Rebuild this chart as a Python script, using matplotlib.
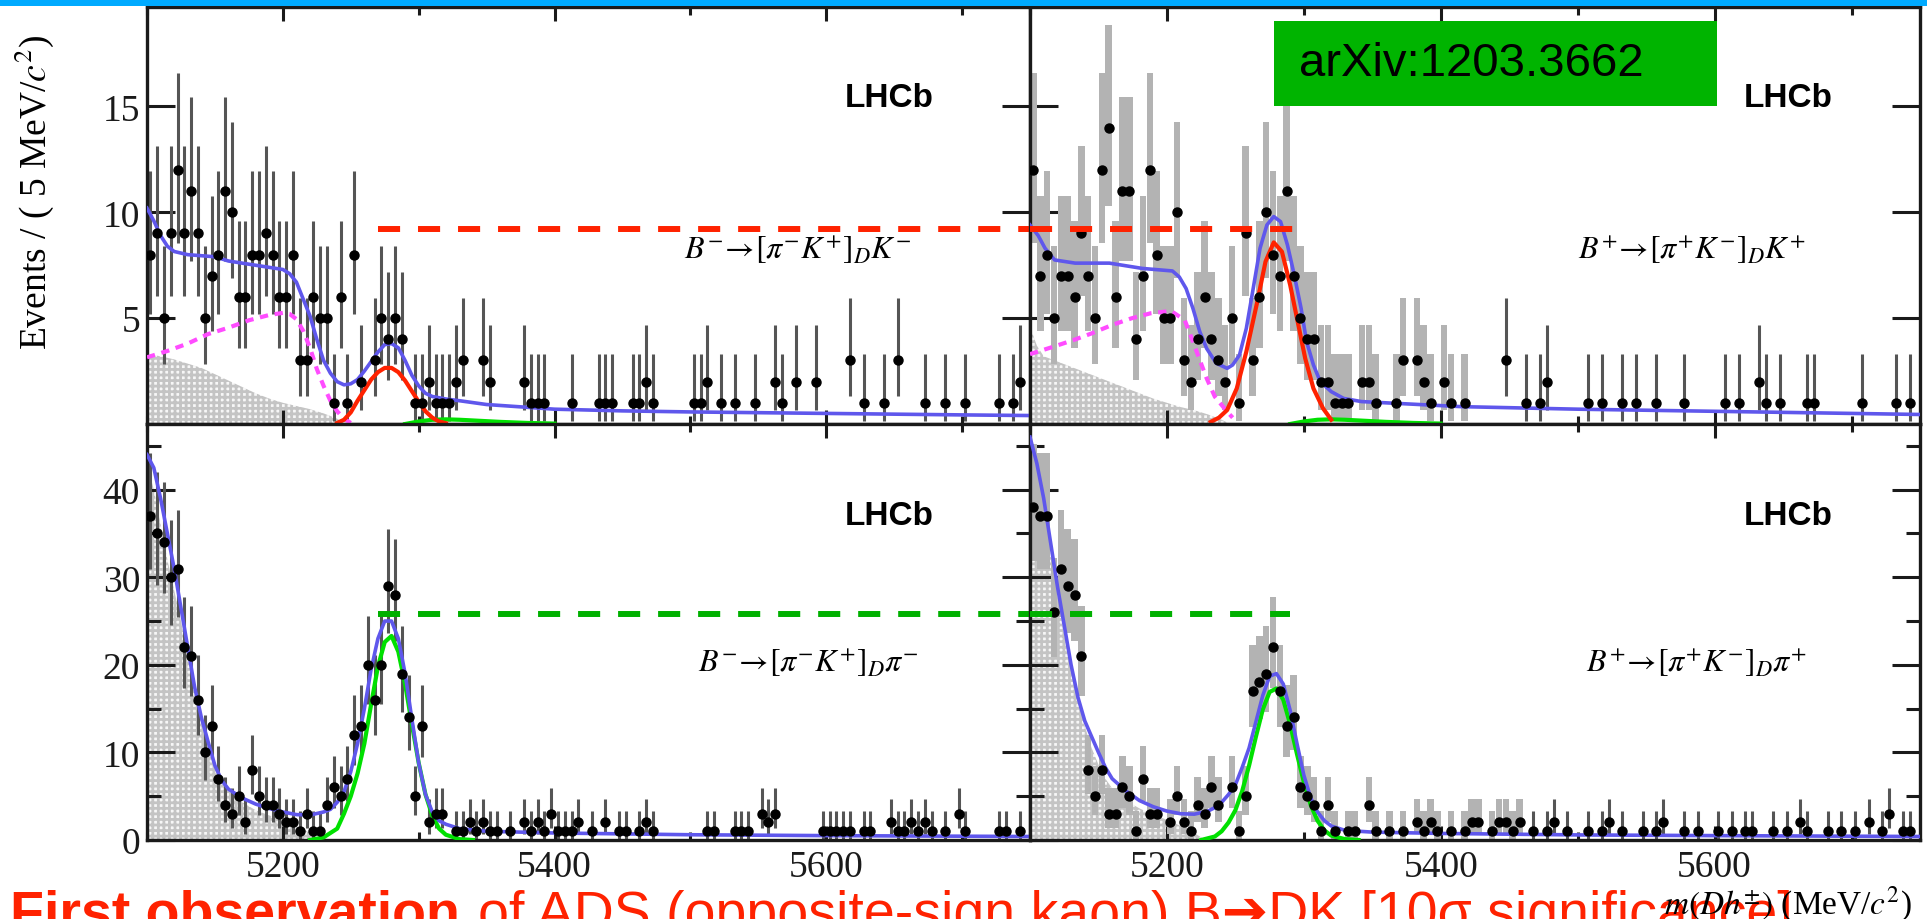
"""LHCb ADS B -> DK / Dpi mass fits: four panel slide figure"""

import numpy as np
import matplotlib
matplotlib.use("Agg")
import matplotlib.pyplot as plt
from matplotlib.patches import Rectangle
from matplotlib.ticker import FixedLocator

###################################################################################################
#                                              DATA                                               #

MASS_LO, MASS_HI = 5100, 5750
BIN_WIDTH = 5

# events per 5 MeV bin starting at 5100 (130 bins)
counts_dk_minus = [
    8, 9, 5, 9, 12, 9, 11, 9, 5, 7,
    8, 11, 10, 6, 6, 8, 8, 9, 8, 6,
    6, 8, 3, 3, 6, 5, 5, 1, 6, 1,
    8, 2, 0, 3, 5, 4, 5, 4, 0, 1,
    1, 2, 1, 1, 1, 2, 3, 0, 0, 3,
    2, 0, 0, 0, 0, 2, 1, 1, 1, 0,
    0, 0, 1, 0, 0, 0, 1, 1, 1, 0,
    0, 1, 1, 2, 1, 0, 0, 0, 0, 0,
    1, 1, 2, 0, 1, 0, 1, 0, 0, 1,
    0, 0, 2, 1, 0, 2, 0, 0, 2, 0,
    0, 0, 0, 3, 0, 1, 0, 0, 1, 0,
    3, 0, 0, 0, 1, 0, 0, 1, 0, 0,
    1, 0, 0, 0, 0, 1, 0, 1, 2, 0,
]
counts_dk_plus = [
    12, 7, 8, 5, 7, 7, 6, 9, 7, 5,
    12, 14, 6, 11, 11, 4, 7, 12, 8, 5,
    5, 10, 3, 2, 4, 6, 4, 3, 2, 5,
    1, 9, 3, 6, 10, 8, 7, 11, 7, 5,
    4, 4, 2, 2, 1, 1, 1, 0, 2, 2,
    1, 0, 0, 1, 3, 0, 3, 2, 1, 0,
    2, 1, 0, 1, 0, 0, 0, 0, 0, 3,
    0, 0, 1, 0, 1, 2, 0, 0, 0, 0,
    0, 1, 0, 1, 0, 0, 1, 0, 1, 0,
    0, 1, 0, 0, 0, 1, 0, 0, 0, 0,
    0, 1, 0, 1, 0, 0, 2, 1, 0, 1,
    0, 0, 0, 1, 1, 0, 0, 0, 0, 0,
    0, 1, 0, 0, 0, 0, 1, 0, 1, 0,
]
counts_dpi_minus = [
    37, 35, 34, 30, 31, 22, 21, 16, 10, 13,
    7, 4, 3, 5, 2, 8, 5, 4, 4, 3,
    2, 2, 1, 3, 1, 1, 4, 6, 5, 7,
    12, 13, 20, 16, 20, 29, 28, 19, 14, 5,
    13, 2, 3, 3, 0, 1, 1, 2, 1, 2,
    1, 1, 0, 1, 0, 2, 1, 2, 1, 3,
    1, 1, 1, 2, 0, 1, 0, 2, 0, 1,
    1, 0, 1, 2, 1, 0, 0, 0, 0, 0,
    0, 0, 1, 1, 0, 0, 1, 1, 1, 0,
    3, 2, 3, 0, 0, 0, 0, 0, 0, 1,
    1, 1, 1, 1, 0, 1, 1, 0, 0, 2,
    1, 1, 2, 1, 2, 1, 0, 1, 0, 3,
    1, 0, 0, 0, 0, 1, 1, 0, 1, 0,
]
counts_dpi_plus = [
    38, 37, 37, 26, 31, 29, 28, 21, 8, 5,
    8, 3, 3, 6, 5, 1, 7, 3, 3, 0,
    2, 5, 2, 1, 4, 3, 6, 4, 0, 6,
    1, 5, 17, 18, 19, 22, 17, 13, 14, 6,
    5, 4, 1, 4, 1, 0, 1, 1, 0, 4,
    1, 0, 1, 0, 1, 0, 2, 1, 2, 1,
    0, 1, 0, 1, 2, 2, 0, 1, 2, 2,
    1, 2, 0, 1, 0, 1, 2, 0, 1, 0,
    0, 1, 0, 1, 2, 0, 1, 0, 0, 1,
    0, 1, 2, 0, 0, 1, 0, 1, 0, 0,
    1, 0, 1, 0, 1, 1, 0, 0, 1, 0,
    1, 0, 2, 1, 0, 0, 1, 0, 1, 0,
    1, 0, 2, 0, 1, 3, 0, 1, 1, 0,
]

# total fit (blue)
total_dk_minus_x = [5100, 5105, 5110, 5115, 5120, 5130, 5140, 5150, 5160, 5170, 5180, 5190, 5200,
                    5205, 5210, 5215, 5220, 5225, 5230, 5235, 5240, 5245, 5250, 5255, 5260, 5265,
                    5270, 5275, 5280, 5285, 5290, 5295, 5300, 5305, 5310, 5320, 5330, 5350, 5400,
                    5450, 5500, 5600, 5700, 5750]
total_dk_minus_y = [10.2, 9.6, 8.9, 8.4, 8.15, 8.0, 7.95, 7.9, 7.7, 7.6, 7.5, 7.4, 7.3,
                    7.1, 6.7, 5.9, 5.1, 4.0, 3.0, 2.4, 2.0, 1.85, 1.9, 2.1, 2.5, 2.95,
                    3.4, 3.75, 3.8, 3.6, 3.0, 2.3, 1.8, 1.45, 1.3, 1.18, 1.1, 0.92, 0.7,
                    0.62, 0.57, 0.5, 0.43, 0.4]
total_dk_plus_x = [5100, 5106, 5111, 5118, 5133, 5158, 5182, 5204, 5209, 5214, 5219, 5224, 5229,
                   5236, 5244, 5248, 5253, 5258, 5263, 5268, 5273, 5278, 5283, 5288, 5293, 5298,
                   5302, 5307, 5312, 5320, 5329, 5342, 5366, 5415, 5500, 5600, 5750]
total_dk_plus_y = [9.4, 8.9, 8.3, 7.75, 7.6, 7.6, 7.35, 7.23, 6.95, 6.4, 5.46, 4.36, 3.57,
                   2.87, 2.63, 2.79, 3.26, 4.52, 6.4, 8.3, 9.4, 9.8, 9.56, 8.46, 7.04, 5.46,
                   3.89, 2.79, 2.0, 1.53, 1.21, 1.06, 0.98, 0.82, 0.7, 0.6, 0.45]
total_dpi_minus_x = [5100, 5105, 5110, 5115, 5120, 5125, 5130, 5135, 5140, 5145, 5150, 5155, 5160,
                     5170, 5180, 5190, 5200, 5210, 5220, 5230, 5235, 5240, 5245, 5250, 5255, 5260,
                     5265, 5270, 5275, 5280, 5285, 5290, 5295, 5300, 5305, 5310, 5315, 5320, 5330,
                     5350, 5400, 5500, 5600, 5750]
total_dpi_minus_y = [44.0, 42.5, 39.0, 35.0, 31.0, 26.5, 22.0, 17.5, 14.0, 11.2, 8.5, 6.8, 5.8,
                     4.8, 4.1, 3.6, 3.2, 2.9, 2.85, 3.2, 3.5, 4.3, 5.5, 7.8, 11.0, 15.0,
                     19.5, 23.0, 25.0, 25.0, 23.0, 19.0, 13.8, 8.8, 5.2, 3.2, 2.2, 1.8, 1.3,
                     1.0, 0.8, 0.6, 0.5, 0.4]
total_dpi_plus_x = [5100, 5105, 5110, 5115, 5120, 5125, 5130, 5135, 5140, 5145, 5150, 5155, 5160,
                    5170, 5180, 5190, 5200, 5210, 5220, 5230, 5235, 5240, 5245, 5250, 5255, 5260,
                    5265, 5270, 5275, 5280, 5285, 5290, 5295, 5300, 5305, 5310, 5315, 5320, 5330,
                    5350, 5400, 5500, 5600, 5750]
total_dpi_plus_y = [46.0, 43.0, 39.0, 34.0, 29.0, 24.5, 20.0, 16.3, 13.6, 11.8, 10.0, 8.3, 7.0,
                    5.6, 4.5, 3.8, 3.3, 3.0, 2.95, 3.3, 3.7, 4.3, 5.2, 6.3, 8.3, 10.5,
                    13.5, 16.5, 18.7, 19.0, 17.8, 14.8, 11.0, 7.4, 4.8, 3.2, 2.2, 1.6, 1.1,
                    0.9, 0.75, 0.58, 0.5, 0.4]

# B -> DK signal (red) in the DK panels
sig_dk_minus_x = [5240, 5245, 5250, 5255, 5260, 5265, 5270, 5275, 5280, 5285, 5290, 5295, 5300,
                  5305, 5310, 5315, 5320]
sig_dk_minus_y = [0.05, 0.2, 0.55, 1.1, 1.6, 2.1, 2.45, 2.65, 2.65, 2.45, 2.05, 1.55, 1.05,
                  0.6, 0.3, 0.12, 0.04]
sig_dk_plus_x = [5232, 5238, 5244, 5251, 5258, 5262, 5266, 5272, 5278, 5284, 5290, 5295, 5301,
                 5307, 5314, 5320]
sig_dk_plus_y = [0.1, 0.3, 0.66, 1.68, 3.42, 4.6, 5.78, 7.67, 8.58, 8.14, 6.57, 4.99, 3.1,
                 1.68, 0.74, 0.2]

# B -> Dpi signal (green) in the Dpi panels
sig_dpi_minus_x = [5220, 5230, 5240, 5245, 5250, 5255, 5260, 5265, 5270, 5275, 5280, 5285, 5290,
                   5295, 5300, 5305, 5310, 5315, 5320, 5330, 5340]
sig_dpi_minus_y = [0.0, 0.3, 1.3, 3.0, 5.0, 7.6, 11.0, 15.5, 19.8, 22.6, 23.3, 21.5, 17.8,
                   13.2, 8.8, 5.2, 2.8, 1.3, 0.6, 0.1, 0.0]
sig_dpi_plus_x = [5225, 5235, 5240, 5245, 5250, 5255, 5260, 5265, 5270, 5275, 5280, 5285, 5290,
                  5295, 5300, 5305, 5310, 5315, 5320, 5330, 5340]
sig_dpi_plus_y = [0.0, 0.4, 1.0, 2.0, 3.4, 5.6, 8.5, 11.8, 14.9, 16.9, 17.3, 16.0, 13.2,
                  9.8, 6.6, 4.0, 2.2, 1.1, 0.5, 0.1, 0.0]

# misidentified B -> Dpi under the DK peak (green, small)
misid_dk_x = [5290, 5300, 5310, 5320, 5330, 5345, 5360, 5380, 5400]
misid_dk_y = [0.0, 0.12, 0.2, 0.22, 0.2, 0.15, 0.1, 0.05, 0.02]

# partially reconstructed component (magenta dashed)
partreco_dk_minus_x = [5100, 5115, 5130, 5145, 5160, 5175, 5190, 5200, 5205, 5210, 5215, 5220,
                       5225, 5230, 5235, 5240, 5245, 5250]
partreco_dk_minus_y = [3.15, 3.45, 3.8, 4.25, 4.55, 4.9, 5.15, 5.25, 5.2, 4.95, 4.4, 3.6,
                       2.6, 1.8, 1.1, 0.6, 0.25, 0.05]
partreco_dk_plus_x = [5100, 5117, 5132, 5145, 5160, 5174, 5188, 5203, 5213, 5219, 5224, 5229,
                      5235, 5244, 5248]
partreco_dk_plus_y = [3.3, 3.65, 3.97, 4.28, 4.68, 4.99, 5.23, 5.34, 4.91, 3.89, 3.02, 2.16,
                      1.29, 0.58, 0.3]

# low mass background (grey hatched)
lowmass_dk_minus_x = [5100, 5110, 5120, 5130, 5140, 5150, 5160, 5170, 5180, 5190, 5200, 5210,
                      5220, 5230, 5240, 5246]
lowmass_dk_minus_y = [3.3, 3.2, 3.05, 2.85, 2.65, 2.35, 2.05, 1.75, 1.45, 1.2, 1.0, 0.85,
                      0.7, 0.5, 0.25, 0.0]
lowmass_dk_plus_x = [5100, 5105, 5110, 5120, 5130, 5140, 5150, 5160, 5170, 5180, 5190, 5200,
                     5210, 5220, 5230, 5240, 5246]
lowmass_dk_plus_y = [4.6, 3.7, 3.2, 2.95, 2.7, 2.45, 2.2, 1.95, 1.7, 1.45, 1.2, 1.0,
                     0.8, 0.65, 0.45, 0.2, 0.0]
lowmass_dpi_minus_x = [5100, 5105, 5110, 5115, 5120, 5125, 5130, 5135, 5140, 5145, 5150, 5155,
                       5160, 5170, 5180, 5190, 5200, 5210, 5220, 5228]
lowmass_dpi_minus_y = [43, 40, 36, 32, 28.5, 25, 21, 17.5, 14, 11, 8.5, 6.8,
                       5.6, 4.3, 3.4, 2.8, 2.3, 1.6, 0.8, 0.0]
lowmass_dpi_plus_x = [5100, 5105, 5110, 5115, 5120, 5125, 5130, 5135, 5140, 5145, 5150, 5155,
                      5160, 5170, 5180, 5190, 5200, 5210, 5220, 5228]
lowmass_dpi_plus_y = [45, 41, 37, 32.5, 28, 23.5, 19.5, 16, 13, 10.5, 8.6, 7.0,
                      5.9, 4.5, 3.6, 2.9, 2.3, 1.6, 0.8, 0.0]

# reference levels drawn as dashed lines across the two charges
dk_peak_level = 9.2
dpi_peak_level = 25.8

decay_labels = [
    r"$B^{-}\!\rightarrow\![\pi^{-}K^{+}]_{D}K^{-}$",
    r"$B^{+}\!\rightarrow\![\pi^{+}K^{-}]_{D}K^{+}$",
    r"$B^{-}\!\rightarrow\![\pi^{-}K^{+}]_{D}\pi^{-}$",
    r"$B^{+}\!\rightarrow\![\pi^{+}K^{-}]_{D}\pi^{+}$",
]

#                                              DATA                                               #
###################################################################################################


###################################################################################################
#                                            FUNCTIONS                                            #

def poisson_band(n):
    """approximate 68% Poisson interval for integer counts"""
    n = np.asarray(n, float)
    lo = n - np.sqrt(np.clip(n - 0.25, 0, None))
    hi = n + np.sqrt(n + 0.75) + 1
    return lo, hi


def draw_data(ax, counts, box_below=None):
    n = np.asarray(counts, float)
    x = MASS_LO + BIN_WIDTH * (np.arange(len(n)) + 0.5)
    keep = n > 0
    lo, hi = poisson_band(n)
    line = keep.copy()
    if box_below is not None:
        box = keep & (x < box_below)
        ax.bar(x[box], (hi - lo)[box], bottom=lo[box], width=4.8, color="#b3b3b3",
               linewidth=0, zorder=2)
        line = keep & ~box
    ax.vlines(x[line], lo[line], hi[line], color="#555555", lw=2.2, zorder=2)
    ax.errorbar(x[keep], n[keep], xerr=BIN_WIDTH / 2, fmt="o", ms=6.5, color="black",
                elinewidth=2.0, capsize=0, zorder=6)


def style_axes(ax, ymax, ymajor, yminor, ylabels, xlabels):
    ax.set_xlim(MASS_LO, MASS_HI)
    ax.set_ylim(0, ymax)
    for s in ax.spines.values():
        s.set_linewidth(2.4)
        s.set_color("#1a1a1a")
    ax.xaxis.set_major_locator(FixedLocator([5200, 5400, 5600]))
    ax.xaxis.set_minor_locator(FixedLocator([5100, 5300, 5500, 5700]))
    ax.yaxis.set_major_locator(FixedLocator(ymajor))
    ax.yaxis.set_minor_locator(FixedLocator(yminor))
    ax.tick_params(which="both", direction="in", top=True, right=True, colors="#1a1a1a",
                   labelsize=27, width=2.2)
    ax.tick_params(axis="y", which="major", length=20, pad=5)
    ax.tick_params(axis="y", which="minor", length=10)
    ax.tick_params(axis="x", which="major", length=10, pad=7)
    ax.tick_params(axis="x", which="minor", length=6)
    if not ylabels:
        ax.set_yticklabels([])
    if not xlabels:
        ax.set_xticklabels([])


def hatched(ax, x, y):
    ax.fill_between(x, 0, y, facecolor="#f7f7f7", edgecolor="#c4c4c4", hatch="+++",
                    linewidth=0, zorder=1)

#                                            FUNCTIONS                                            #
###################################################################################################


###################################################################################################
#                                            MAIN BODY                                            #

plt.rcParams["font.family"] = ["Liberation Serif", "DejaVu Serif"]
plt.rcParams["mathtext.fontset"] = "stix"
plt.rcParams["hatch.linewidth"] = 2.0

W, H = 1927, 920
fig = plt.figure(figsize=(W / 100, H / 100), dpi=100)

x_l, x_m, x_r = 147 / W, 1030 / W, 1920 / W
y_t, y_m, y_b = 1 - 8 / H, 1 - 425 / H, 1 - 841 / H

ax_tl = fig.add_axes([x_l, y_m, x_m - x_l, y_t - y_m])
ax_tr = fig.add_axes([x_m, y_m, x_r - x_m, y_t - y_m])
ax_bl = fig.add_axes([x_l, y_b, x_m - x_l, y_m - y_b])
ax_br = fig.add_axes([x_m, y_b, x_r - x_m, y_m - y_b])

blue = "#5f57ec"
red = "#ff2200"
green = "#00e000"
magenta = "#ff4cff"

# top left: B- -> DK
hatched(ax_tl, lowmass_dk_minus_x, lowmass_dk_minus_y)
draw_data(ax_tl, counts_dk_minus)
ax_tl.plot(partreco_dk_minus_x, partreco_dk_minus_y, color=magenta, lw=3, dashes=(2, 1.6), zorder=4)
ax_tl.plot(misid_dk_x, misid_dk_y, color=green, lw=3, zorder=4)
ax_tl.plot(sig_dk_minus_x, sig_dk_minus_y, color=red, lw=3, zorder=4)
ax_tl.plot(total_dk_minus_x, total_dk_minus_y, color=blue, lw=2.6, zorder=5)
ax_tl.plot([5270, MASS_HI], [dk_peak_level] * 2, color=red, lw=4.3, dashes=(3.7, 3.0), zorder=7)

# top right: B+ -> DK
hatched(ax_tr, lowmass_dk_plus_x, lowmass_dk_plus_y)
draw_data(ax_tr, counts_dk_plus, box_below=5420)
ax_tr.plot(partreco_dk_plus_x, partreco_dk_plus_y, color=magenta, lw=3, dashes=(2, 1.6), zorder=4)
ax_tr.plot(misid_dk_x, misid_dk_y, color=green, lw=3, zorder=4)
ax_tr.plot(sig_dk_plus_x, sig_dk_plus_y, color=red, lw=3, zorder=4)
ax_tr.plot(total_dk_plus_x, total_dk_plus_y, color=blue, lw=2.6, zorder=5)
ax_tr.plot([MASS_LO, 5292], [dk_peak_level] * 2, color=red, lw=4.3, dashes=(3.7, 3.0), zorder=7)

# bottom left: B- -> Dpi
hatched(ax_bl, lowmass_dpi_minus_x, lowmass_dpi_minus_y)
draw_data(ax_bl, counts_dpi_minus)
ax_bl.plot(sig_dpi_minus_x, sig_dpi_minus_y, color=green, lw=3, zorder=4)
ax_bl.plot(total_dpi_minus_x, total_dpi_minus_y, color=blue, lw=2.6, zorder=5)
ax_bl.plot([5270, MASS_HI], [dpi_peak_level] * 2, color="#00b000", lw=4.3, dashes=(3.7, 3.0), zorder=7)

# bottom right: B+ -> Dpi
hatched(ax_br, lowmass_dpi_plus_x, lowmass_dpi_plus_y)
draw_data(ax_br, counts_dpi_plus, box_below=5460)
ax_br.plot(sig_dpi_plus_x, sig_dpi_plus_y, color=green, lw=3, zorder=4)
ax_br.plot(total_dpi_plus_x, total_dpi_plus_y, color=blue, lw=2.6, zorder=5)
ax_br.plot([MASS_LO, 5290], [dpi_peak_level] * 2, color="#00b000", lw=4.3, dashes=(3.7, 3.0), zorder=7)

style_axes(ax_tl, 19.7, [5, 10, 15], [], True, False)
style_axes(ax_tr, 19.7, [5, 10, 15], [], False, False)
style_axes(ax_bl, 47.5, [0, 10, 20, 30, 40], [5, 15, 25, 35, 45], True, True)
style_axes(ax_br, 47.5, [0, 10, 20, 30, 40], [5, 15, 25, 35, 45], False, True)

# panel texts
for ax, label, (lx, ly) in zip([ax_tl, ax_tr, ax_bl, ax_br], decay_labels,
                               [(0.737, 0.42), (0.744, 0.42), (0.749, 0.428), (0.749, 0.428)]):
    ax.text(lx, ly, label, transform=ax.transAxes, fontsize=23, ha="center", va="center",
            zorder=8)
for ax, (lx, ly) in zip([ax_tl, ax_tr, ax_bl, ax_br],
                        [(0.841, 0.784), (0.852, 0.784), (0.841, 0.779), (0.852, 0.779)]):
    ax.text(lx, ly, "LHCb", transform=ax.transAxes, fontsize=24, fontweight="bold",
            ha="center", va="center", family=["Liberation Sans", "DejaVu Sans"], zorder=8)

fig.text(34 / W, 1 - 350 / H, r"Events / ( 5 MeV/$c^{2}$)", rotation=90, fontsize=27,
         ha="center", va="bottom")

# slide decorations
fig.patches.append(Rectangle((0, 1 - 7 / H), 1, 7 / H, transform=fig.transFigure,
                             facecolor="#00aaff", edgecolor="none", zorder=10))
fig.patches.append(Rectangle((1274 / W, 1 - 107 / H), 443 / W, 85 / H, transform=fig.transFigure,
                             facecolor="#00b400", edgecolor="none", zorder=10))
fig.text(1299 / W, 1 - 64 / H, "arXiv:1203.3662", fontsize=34, ha="left", va="center",
         family=["Liberation Sans", "DejaVu Sans"], color="black", zorder=11)

# slide caption, only its upper part fits on the screenshot
fig.text(10 / W, 1 - 930 / H, "First observation", fontsize=40, fontweight="bold",
         ha="left", va="baseline", color="#ff2200", family=["Liberation Sans", "DejaVu Sans"],
         zorder=1)
fig.text(478 / W, 1 - 930 / H,
         "of ADS (opposite-sign kaon) B\u2794DK [10\u03c3 significance]",
         fontsize=40, ha="left", va="baseline", color="#ff2200",
         family=["Liberation Sans", "DejaVu Sans"], zorder=1)

fig.text(1912 / W, 1 - 914 / H, r"$m(Dh^{\pm})$ (MeV/$c^{2}$)", fontsize=24,
         ha="right", va="baseline", zorder=5)

fig.savefig("out.png", dpi=100)

#                                            MAIN BODY                                            #
###################################################################################################
